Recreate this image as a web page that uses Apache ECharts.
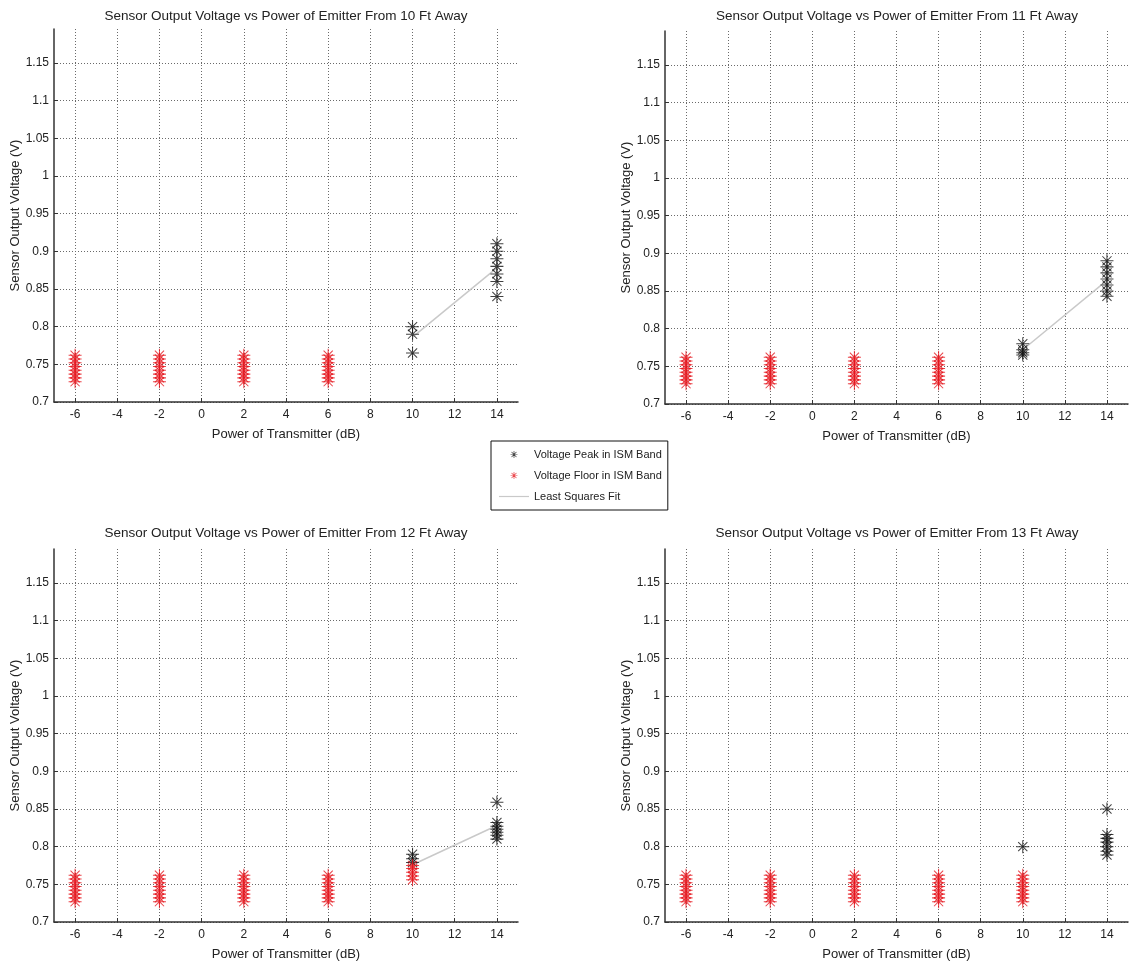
<!DOCTYPE html>
<html>
<head>
<meta charset="utf-8">
<script src="https://cdn.jsdelivr.net/npm/echarts@6/dist/echarts.min.js"></script>
<style>
html,body{margin:0;padding:0;background:#fff;}
#chart{width:1132px;height:970px;}
</style>
</head>
<body>
<div id="chart"></div>
<script>
// ---------------- DATA ----------------
const plotTitles = [
  'Sensor Output Voltage vs Power of Emitter From 10 Ft Away',
  'Sensor Output Voltage vs Power of Emitter From 11 Ft Away',
  'Sensor Output Voltage vs Power of Emitter From 12 Ft Away',
  'Sensor Output Voltage vs Power of Emitter From 13 Ft Away'
];
const xTickValues = [-6, -4, -2, 0, 2, 4, 6, 8, 10, 12, 14];
const yTickValues = [0.7, 0.75, 0.8, 0.85, 0.9, 0.95, 1, 1.05, 1.1, 1.15];
const seriesNames = ['Voltage Peak in ISM Band', 'Voltage Floor in ISM Band', 'Least Squares Fit'];

// 10 ft
const peakX_10 = [10, 10, 10, 14, 14, 14, 14, 14, 14, 14];
const peakY_10 = [0.800, 0.790, 0.765, 0.910, 0.900, 0.890, 0.880, 0.870, 0.860, 0.840];
const floorCols_10 = [-6, -2, 2, 6];
const floorLevels_10 = [0.727, 0.732, 0.737, 0.742, 0.747, 0.752, 0.757, 0.762];
const fitX_10 = [10, 14];
const fitY_10 = [0.786, 0.878];

// 11 ft
const peakX_11 = [10, 10, 10, 10, 14, 14, 14, 14, 14, 14, 14];
const peakY_11 = [0.780, 0.772, 0.768, 0.765, 0.890, 0.882, 0.874, 0.866, 0.858, 0.850, 0.843];
const floorCols_11 = [-6, -2, 2, 6];
const floorLevels_11 = [0.727, 0.732, 0.737, 0.742, 0.747, 0.752, 0.757, 0.762];
const fitX_11 = [10, 14];
const fitY_11 = [0.772, 0.864];

// 12 ft
const peakX_12 = [10, 10, 10, 14, 14, 14, 14, 14, 14, 14];
const peakY_12 = [0.790, 0.784, 0.779, 0.859, 0.832, 0.827, 0.823, 0.819, 0.815, 0.810];
const floorCols_12 = [-6, -2, 2, 6];
const floorLevels_12 = [0.727, 0.732, 0.737, 0.742, 0.747, 0.752, 0.757, 0.762];
const floorX10_12 = [10, 10, 10, 10, 10];
const floorY10_12 = [0.756, 0.761, 0.766, 0.771, 0.775];
const fitX_12 = [10, 14];
const fitY_12 = [0.776, 0.828];

// 13 ft
const peakX_13 = [10, 14, 14, 14, 14, 14, 14, 14];
const peakY_13 = [0.800, 0.850, 0.816, 0.811, 0.806, 0.800, 0.794, 0.789];
const floorCols_13 = [-6, -2, 2, 6, 10];
const floorLevels_13 = [0.727, 0.732, 0.737, 0.742, 0.747, 0.752, 0.757, 0.762];

// ---------------- BUILD ----------------
const ASTERISK = 'path://M9.2 0H10.8V20H9.2Z M0 9.2H20V10.8H0Z M3.5 2.4L17.6 16.5L16.5 17.6L2.4 3.5Z M16.5 2.4L17.6 3.5L3.5 17.6L2.4 16.5Z';
const LEG_STAR = 'path://M9 0H11V20H9Z M0 9H20V11H0Z M3.7 2.3L17.7 16.3L16.3 17.7L2.3 3.7Z M16.3 2.3L17.7 3.7L3.7 17.7L2.3 16.3Z';
const LEG_LINE = 'path://M0 0H30V1.2H0Z';
const FONT = '"Liberation Sans", Arial, sans-serif';
const BLACK = '#111';
const RED = '#e5141c';

function zip(xs, ys) { return xs.map((x, i) => [x, ys[i]]); }
function cross(cols, levels) {
  const out = [];
  cols.forEach(c => levels.forEach(v => out.push([c, v])));
  return out;
}

const grids = [
  { left: 54, top: 29, width: 464, height: 373 },
  { left: 665, top: 31, width: 463, height: 373 },
  { left: 54, top: 549, width: 464, height: 373 },
  { left: 665, top: 549, width: 463, height: 373 }
];
const titleCenters = [[286, 9], [897, 9], [286, 526], [897, 526]];

const plotData = [
  { peak: zip(peakX_10, peakY_10), floor: cross(floorCols_10, floorLevels_10), fit: zip(fitX_10, fitY_10) },
  { peak: zip(peakX_11, peakY_11), floor: cross(floorCols_11, floorLevels_11), fit: zip(fitX_11, fitY_11) },
  { peak: zip(peakX_12, peakY_12), floor: cross(floorCols_12, floorLevels_12).concat(zip(floorX10_12, floorY10_12)), fit: zip(fitX_12, fitY_12) },
  { peak: zip(peakX_13, peakY_13), floor: cross(floorCols_13, floorLevels_13), fit: null }
];

const GRIDLINE = { type: [1, 2], color: '#6a6a6a', width: 1 };
const xAxes = [], yAxes = [], series = [], titles = [];
grids.forEach((g, i) => {
  titles.push({
    text: plotTitles[i], left: titleCenters[i][0], top: titleCenters[i][1], textAlign: 'center', padding: 0,
    textStyle: { fontFamily: FONT, fontSize: 13.5, fontWeight: 'normal', color: '#222' }
  });
  xAxes.push({
    type: 'value', gridIndex: i, min: -7, max: 15,
    name: 'Power of Transmitter (dB)', nameLocation: 'middle', nameGap: 26,
    nameTextStyle: { fontFamily: FONT, fontSize: 13, color: '#222' },
    axisLine: { show: true, onZero: false, lineStyle: { color: '#333', width: 1.5 } },
    axisTick: { show: true, inside: true, length: 4, customValues: xTickValues, lineStyle: { color: '#333' } },
    axisLabel: { customValues: xTickValues, margin: 7, fontFamily: FONT, fontSize: 12, color: '#222' },
    splitLine: { show: true, lineStyle: GRIDLINE }
  });
  yAxes.push({
    type: 'value', gridIndex: i, min: 0.7, max: 1.195,
    name: 'Sensor Output Voltage (V)', nameLocation: 'middle', nameGap: 30,
    nameTextStyle: { fontFamily: FONT, fontSize: 13, color: '#222' },
    axisLine: { show: true, onZero: false, lineStyle: { color: '#333', width: 1.5 } },
    axisTick: { show: true, inside: true, length: 4, customValues: yTickValues, lineStyle: { color: '#333' } },
    axisLabel: { customValues: yTickValues, margin: 5, fontFamily: FONT, fontSize: 12, color: '#222',
      formatter: v => String(+(+v).toFixed(2)) },
    splitLine: { show: true, lineStyle: GRIDLINE }
  });
  const d = plotData[i];
  if (d.fit) {
    series.push({
      name: seriesNames[2], type: 'line', xAxisIndex: i, yAxisIndex: i, data: d.fit,
      symbol: 'none', showSymbol: false, lineStyle: { color: '#c9c9c9', width: 1.5 }, itemStyle: { color: '#c9c9c9' },
      z: 2, silent: true, animation: false
    });
  }
  series.push({
    name: seriesNames[0], type: 'scatter', xAxisIndex: i, yAxisIndex: i, data: d.peak,
    symbol: ASTERISK, symbolSize: 13, itemStyle: { color: BLACK }, z: 3, animation: false
  });
  series.push({
    name: seriesNames[1], type: 'scatter', xAxisIndex: i, yAxisIndex: i, data: d.floor,
    symbol: ASTERISK, symbolSize: 13, itemStyle: { color: RED }, z: 4, animation: false
  });
});

const chart = echarts.init(document.getElementById('chart'), null, { renderer: 'canvas' });
chart.setOption({
  backgroundColor: '#fff',
  animation: false,
  title: titles,
  grid: grids,
  xAxis: xAxes,
  yAxis: yAxes,
  legend: {
    data: [
      { name: seriesNames[0], icon: LEG_STAR },
      { name: seriesNames[1], icon: LEG_STAR },
      { name: seriesNames[2], icon: LEG_LINE }
    ],
    orient: 'vertical', left: 491, top: 441,
    itemWidth: 30, itemHeight: 7, itemGap: 10,
    padding: [8, 6, 8, 8],
    borderColor: '#111', borderWidth: 1, backgroundColor: '#fff',
    textStyle: { fontFamily: FONT, fontSize: 11, color: '#222' }
  },
  series: series
});
</script>
</body>
</html>
